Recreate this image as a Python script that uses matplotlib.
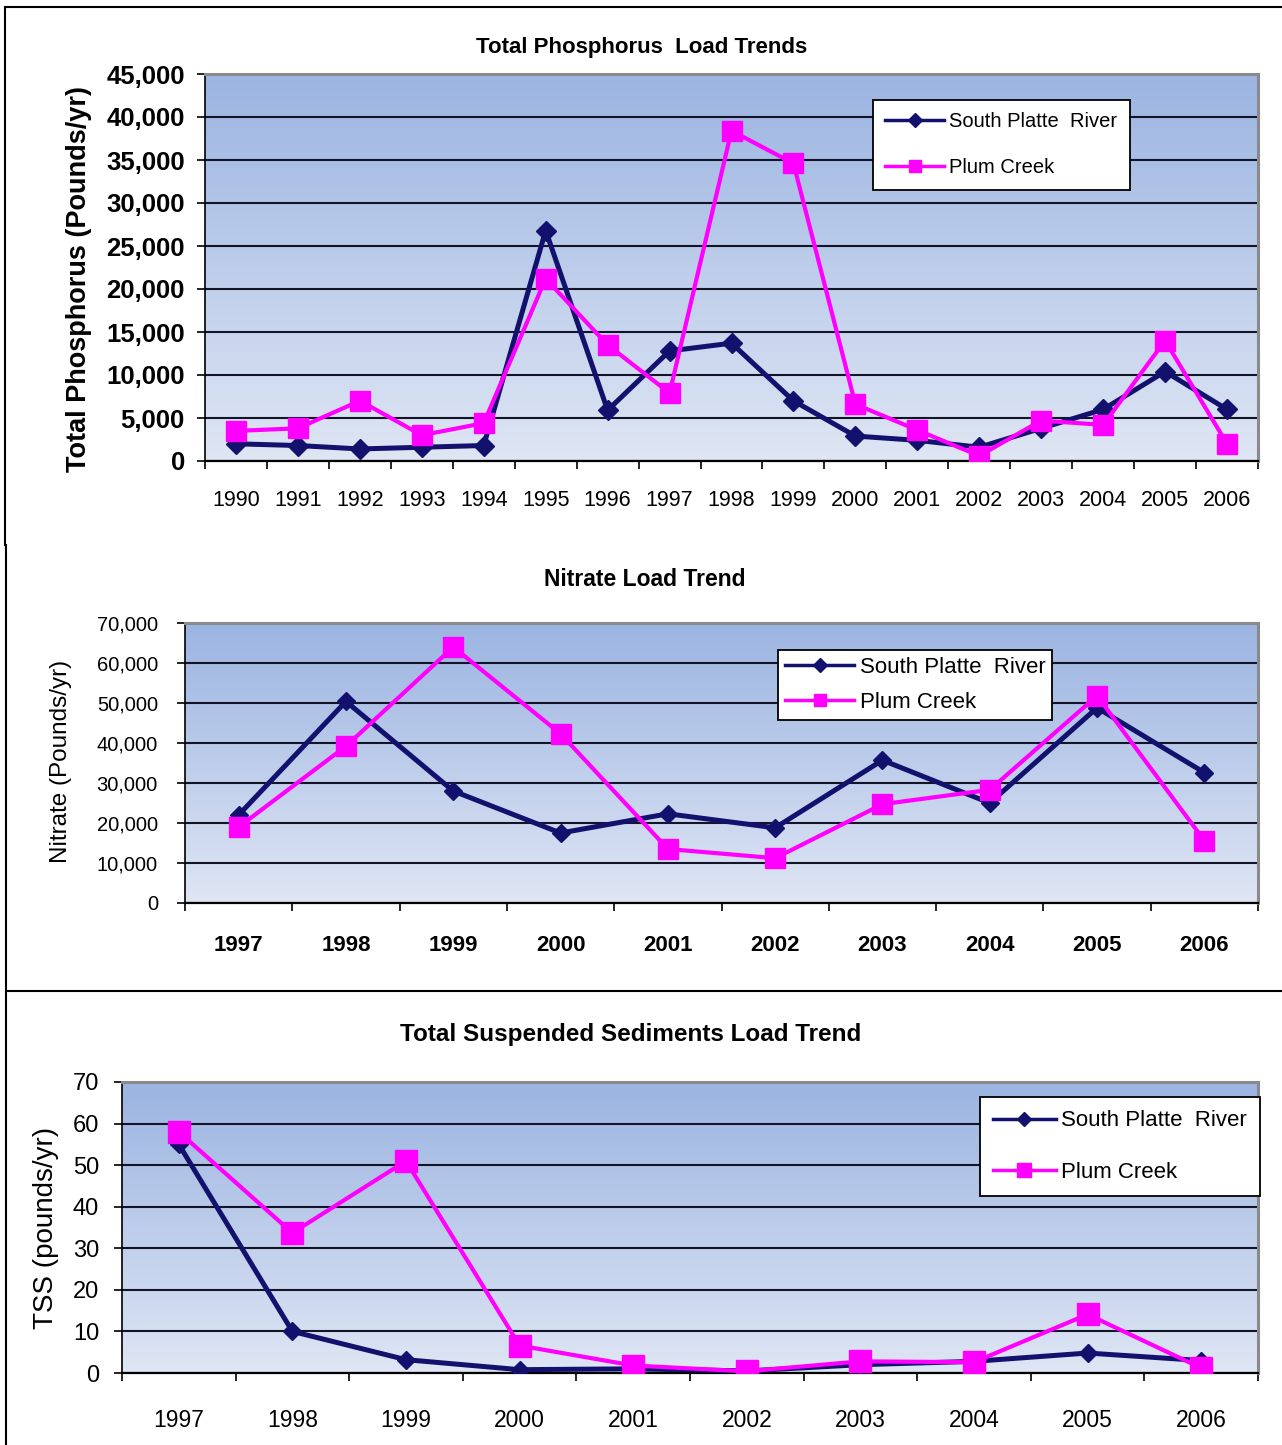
import matplotlib
matplotlib.use('Agg')
import matplotlib.pyplot as plt
import numpy as np
from matplotlib.colors import LinearSegmentedColormap
from matplotlib.lines import Line2D
from matplotlib.ticker import FixedLocator, StrMethodFormatter

plt.rcParams['font.family'] = ['Liberation Sans', 'DejaVu Sans']

# ---------------- data ----------------
tp_years = [str(y) for y in range(1990, 2007)]
tp_south_platte = [2000, 1800, 1400, 1600, 1800, 26800, 5900, 12800, 13700, 7000,
                   2900, 2400, 1600, 3800, 6000, 10400, 6000]
tp_plum_creek = [3500, 3800, 7000, 3000, 4400, 21200, 13500, 7900, 38400, 34600,
                 6600, 3600, 600, 4700, 4200, 14000, 2000]
tp_yticks = [0, 5000, 10000, 15000, 20000, 25000, 30000, 35000, 40000, 45000]

no3_years = [str(y) for y in range(1997, 2007)]
no3_south_platte = [22000, 50400, 28000, 17500, 22300, 18800, 35700, 25000, 48800, 32600]
no3_plum_creek = [19000, 39200, 64000, 42300, 13500, 11200, 24700, 28300, 51800, 15600]
no3_yticks = [0, 10000, 20000, 30000, 40000, 50000, 60000, 70000]

tss_years = [str(y) for y in range(1997, 2007)]
tss_south_platte = [55, 10, 3.2, 0.8, 1.0, 0.5, 2.0, 2.8, 4.8, 3.0]
tss_plum_creek = [58, 33.7, 51, 6.6, 1.8, 0.4, 2.8, 2.6, 14.1, 1.2]
tss_yticks = [0, 10, 20, 30, 40, 50, 60, 70]

series_names = ["South Platte  River", "Plum Creek"]
titles = ["Total Phosphorus  Load Trends", "Nitrate Load Trend",
          "Total Suspended Sediments Load Trend"]
ylabels = ["Total Phosphorus (Pounds/yr)", "Nitrate (Pounds/yr)", "TSS (pounds/yr)"]

NAVY = '#12126e'
MAGENTA = '#ff00ff'
GRID = '#141428'
cmap = LinearSegmentedColormap.from_list('bg', ['#dfe6f4', '#9bb4e1'])

W, H = 1282, 1445
fig = plt.figure(figsize=(W / 100, H / 100), dpi=100)
fig.patch.set_facecolor('white')


def fx(px):
    return px / W


def fy(py):
    return 1 - py / H


def make_panel(rect_px, years, sp, pc, yticks, cfg):
    l, t, r, b = rect_px
    ax = fig.add_axes([fx(l), fy(b), fx(r - l), (b - t) / H])
    n = len(years)
    x = np.arange(n)
    grad = np.linspace(0, 1, 256).reshape(-1, 1)
    ax.imshow(grad, extent=[0, 1, 0, 1], transform=ax.transAxes, aspect='auto',
              cmap=cmap, origin='lower', zorder=0)
    ax.plot(x, sp, color=NAVY, lw=cfg['lw_sp'], marker='D', ms=cfg['ms_sp'],
            zorder=3, solid_joinstyle='round')
    ax.plot(x, pc, color=MAGENTA, lw=cfg['lw_pc'], marker='s', ms=cfg['ms_pc'],
            zorder=4, solid_joinstyle='round')
    ax.set_xlim(-0.5, n - 0.5)
    ax.set_ylim(yticks[0], yticks[-1])
    ax.yaxis.set_major_locator(FixedLocator(yticks))
    ax.yaxis.set_major_formatter(StrMethodFormatter('{x:,.0f}'))
    ax.set_axisbelow(True)
    ax.yaxis.grid(True, color=GRID, lw=1.5)
    ax.xaxis.grid(False)
    ax.set_xticks(x)
    ax.set_xticklabels(years, fontsize=cfg['xfs'], fontweight=cfg['xfw'])
    ax.set_xticks(np.arange(-0.5, n, 1.0), minor=True)
    ax.tick_params(axis='x', which='major', length=0, pad=cfg['xpad'])
    ax.tick_params(axis='x', which='minor', length=6, width=1.2, direction='out')
    ax.tick_params(axis='y', length=5.5, width=1.2, direction='out', pad=cfg['ypad'],
                   labelsize=cfg['yfs'])
    for lab in ax.get_yticklabels():
        lab.set_fontweight(cfg['yfw'])
    for s in ('top', 'right'):
        ax.spines[s].set_color('#8a8a8a')
        ax.spines[s].set_linewidth(2.2)
    ax.spines['left'].set_color('black')
    ax.spines['left'].set_linewidth(1.2)
    ax.spines['bottom'].set_color('black')
    ax.spines['bottom'].set_linewidth(1.6)
    ax.set_ylabel(cfg['ylabel'], fontsize=cfg['ylfs'], fontweight=cfg['ylfw'])
    ax.yaxis.set_label_coords(cfg['ylx'], cfg['yly'])
    handles = [Line2D([], [], color=NAVY, lw=2.5, marker='D', ms=cfg['lms_sp']),
               Line2D([], [], color=MAGENTA, lw=2.5, marker='s', ms=cfg['lms_pc'])]
    leg = ax.legend(handles, series_names, loc='upper left',
                    bbox_to_anchor=(fx(cfg['leg'][0]), fy(cfg['leg'][1])),
                    bbox_transform=fig.transFigure, borderaxespad=0,
                    fontsize=cfg['lfs'], frameon=True, fancybox=False,
                    framealpha=1, edgecolor='black', borderpad=cfg['lbp'],
                    labelspacing=cfg['lls'], handlelength=cfg['lhl'],
                    handletextpad=0.25)
    leg.get_frame().set_linewidth(1.3)
    leg.set_zorder(6)
    return ax


# Panel 1: Total Phosphorus
make_panel((205, 74, 1258, 461), tp_years, tp_south_platte, tp_plum_creek, tp_yticks,
           dict(lw_sp=3.6, lw_pc=3.0, ms_sp=10, ms_pc=14, xfs=15.5, xfw='normal', xpad=21,
                yfs=18.5, yfw='bold', ypad=9, ylabel=ylabels[0], ylfs=19.5, ylfw='bold',
                ylx=(92 - 205) / 1053, yly=0.47, leg=(873, 100), lfs=14.5, lbp=0.62,
                lls=1.32, lhl=2.9, lms_sp=7, lms_pc=9))
fig.text(fx(642), fy(47), titles[0], ha='center', va='center', fontsize=16,
         fontweight='bold')

# Panel 2: Nitrate
make_panel((185, 623, 1258, 903), no3_years, no3_south_platte, no3_plum_creek, no3_yticks,
           dict(lw_sp=3.6, lw_pc=3.0, ms_sp=9, ms_pc=14, xfs=16, xfw='bold', xpad=23,
                yfs=14.5, yfw='normal', ypad=14, ylabel=ylabels[1], ylfs=17.5, ylfw='normal',
                ylx=(72 - 185) / 1073, yly=0.507, leg=(778, 650), lfs=16, lbp=0.32,
                lls=0.62, lhl=3.1, lms_sp=7, lms_pc=9))
fig.text(fx(645), fy(580), titles[1], ha='center', va='center', fontsize=16.5,
         fontweight='bold')

# Panel 3: TSS
make_panel((122, 1082, 1258, 1373), tss_years, tss_south_platte, tss_plum_creek, tss_yticks,
           dict(lw_sp=3.6, lw_pc=3.0, ms_sp=9, ms_pc=16, xfs=16.5, xfw='normal', xpad=26,
                yfs=17, yfw='normal', ypad=11, ylabel=ylabels[2], ylfs=20, ylfw='normal',
                ylx=(59 - 122) / 1136, yly=0.5, leg=(980, 1097), lfs=16, lbp=0.6,
                lls=1.38, lhl=2.8, lms_sp=7, lms_pc=10))
fig.text(fx(631), fy(1034), titles[2], ha='center', va='center', fontsize=17.5,
         fontweight='bold')

# page frame lines
frame_kw = dict(color='black', lw=1.5, transform=fig.transFigure)
fig.add_artist(Line2D([fx(5), 1.0], [fy(7), fy(7)], **frame_kw))
fig.add_artist(Line2D([fx(5), fx(5)], [fy(7), fy(545)], **frame_kw))
fig.add_artist(Line2D([fx(6), fx(6)], [fy(545), 0.0], **frame_kw))
fig.add_artist(Line2D([fx(6), 1.0], [fy(991), fy(991)], **frame_kw))

fig.savefig('out.png', dpi=100, facecolor='white')
